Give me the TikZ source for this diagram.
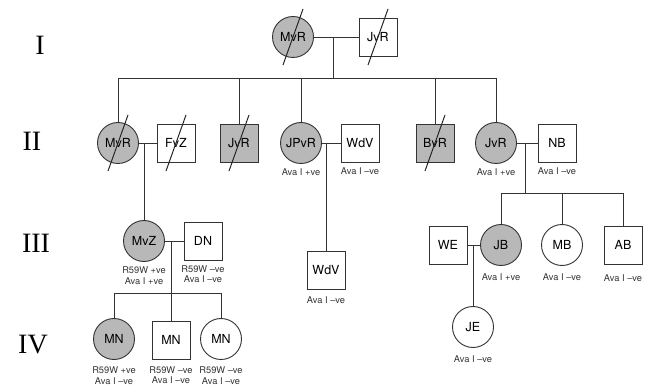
\documentclass[tikz,border=0pt]{standalone}
\usepackage{fontspec}
\setsansfont{TeX Gyre Heros}
\newfontfamily\genfont{Liberation Serif}
\usetikzlibrary{calc}

\tikzset{
  person/.style={draw=black!80, line width=0.9pt, inner sep=0pt,
    font=\sffamily\fontsize{12.5}{12.5}\selectfont},
  female/.style={person, circle, minimum size=41pt},
  male/.style={person, rectangle, minimum size=38pt},
  affected/.style={fill=black!28},
  note/.style={font=\sffamily\fontsize{9.3}{10.5}\selectfont, align=center,
    text=black!80, inner sep=1pt, label distance=4pt},
  gen/.style={font=\genfont\fontsize{28}{28}\selectfont},
  link/.style={draw=black!80, line width=0.8pt},
  dead/.style={draw=black!85, line width=1pt}
}

\begin{document}
\begin{tikzpicture}[x=1pt, y=-1pt]
  \useasboundingbox[fill=white] (0,0) rectangle (646,385);

  % generation labels
  \node[gen] (gI) at (40,45) {I};
  \node[gen] (gII) at (32,141) {II};
  \node[gen] (gIII) at (36,243) {III};
  \node[gen] (gIV) at (33,345) {IV};

  % generation I
  \node[female, affected] (iMvR) at (293,37) {MvR};
  \node[male] (iJvR) at (378,37) {JvR};

  % generation II
  \node[female, affected] (iiMvR) at (118,143) {MvR};
  \node[male] (iiFvZ) at (176,143) {FvZ};
  \node[male, affected] (iiJvRa) at (239,143) {JvR};
  \node[female, affected, label={[note]below:Ava I +ve}] (iiJPvR) at (301,143) {JPvR};
  \node[male, label={[note]below:Ava I –ve}] (iiWdV) at (360,143) {WdV};
  \node[male, affected] (iiBvR) at (435,143) {BvR};
  \node[female, affected, label={[note]below:Ava I +ve}] (iiJvRb) at (496,143) {JvR};
  \node[male, label={[note]below:Ava I –ve}] (iiNB) at (557,143) {NB};

  % generation III
  \node[female, affected, label={[note]below:R59W +ve\\Ava I +ve}] (iiiMvZ) at (144,241) {MvZ};
  \node[male, label={[note]below:R59W –ve\\Ava I –ve}] (iiiDN) at (203,241) {DN};
  \node[male, label={[note, label distance=6pt]below:Ava I –ve}] (iiiWdV) at (326,270) {WdV};
  \node[male] (iiiWE) at (448,245) {WE};
  \node[female, affected, label={[note, label distance=7pt]below:Ava I +ve}] (iiiJB) at (501,245) {JB};
  \node[female, label={[note, label distance=7pt]below:Ava I –ve}] (iiiMB) at (562,245) {MB};
  \node[male, label={[note, label distance=9pt]below:Ava I –ve}] (iiiAB) at (623,245) {AB};

  % generation IV
  \node[female, affected, label={[note, label distance=6pt]below:R59W +ve\\Ava I –ve}] (ivMNa) at (114,339) {MN};
  \node[male, label={[note, label distance=6pt]below:R59W –ve\\Ava I –ve}] (ivMNb) at (171,340) {MN};
  \node[female, label={[note, label distance=6pt]below:R59W –ve\\Ava I –ve}] (ivMNc) at (221,339) {MN};
  \node[female, label={[note, label distance=7pt]below:Ava I –ve}] (ivJE) at (473,327) {JE};

  % deceased
  \foreach \n in {iMvR, iJvR, iiMvR, iiFvZ, iiJvRa, iiBvR}
    \draw[dead] ([shift={(-10,28)}]\n.center) -- ([shift={(10,-28)}]\n.center);

  % I -> II
  \coordinate (iMar) at (333,37);
  \coordinate (iSib) at (333,78);
  \draw[link] (iMvR) -- (iJvR);
  \draw[link] (iMar) -- (iSib);
  \draw[link] (iiMvR |- iSib) -- (iiJvRb |- iSib);
  \foreach \n in {iiMvR, iiJvRa, iiJPvR, iiBvR, iiJvRb}
    \draw[link] (\n |- iSib) -- (\n);

  % II -> III
  \draw[link] (iiMvR) -- (iiFvZ);
  \draw[link] (iiJPvR) -- (iiWdV);
  \draw[link] (iiJvRb) -- (iiNB);
  \coordinate (iiMarA) at (144,143);
  \coordinate (iiMarB) at (326,143);
  \coordinate (iiMarC) at (525,143);
  \coordinate (iiSibC) at (525,193);
  \draw[link] (iiMarA) -- (iiiMvZ);
  \draw[link] (iiMarB) -- (iiiWdV);
  \draw[link] (iiMarC) -- (iiSibC);
  \draw[link] (iiiJB |- iiSibC) -- (iiiAB |- iiSibC);
  \foreach \n in {iiiJB, iiiMB, iiiAB}
    \draw[link] (\n |- iiSibC) -- (\n);

  % III -> IV
  \draw[link] (iiiMvZ) -- (iiiDN);
  \draw[link] (iiiWE) -- (iiiJB);
  \coordinate (iiiMarA) at (171,241);
  \coordinate (iiiSibA) at (171,293);
  \coordinate (iiiMarB) at (473,245);
  \draw[link] (iiiMarA) -- (iiiSibA);
  \draw[link] (ivMNa |- iiiSibA) -- (ivMNc |- iiiSibA);
  \foreach \n in {ivMNa, ivMNb, ivMNc}
    \draw[link] (\n |- iiiSibA) -- (\n);
  \draw[link] (iiiMarB) -- (ivJE);
\end{tikzpicture}
\end{document}
